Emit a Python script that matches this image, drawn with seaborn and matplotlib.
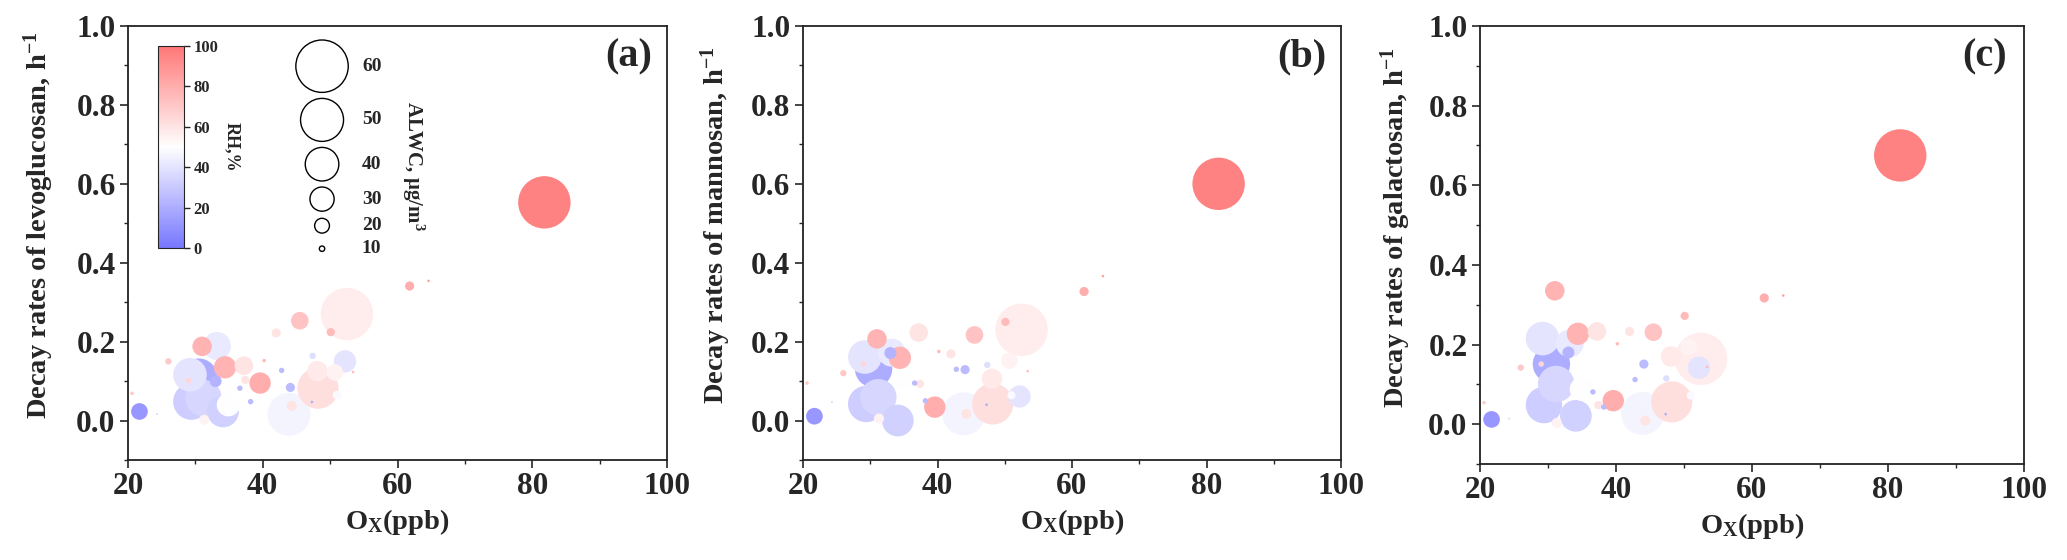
import numpy as np
import pandas as pd
import matplotlib
matplotlib.use("Agg")
import matplotlib.pyplot as plt
import seaborn as sns
from matplotlib.colors import LinearSegmentedColormap, Normalize
from matplotlib.cm import ScalarMappable
from matplotlib.ticker import MultipleLocator, AutoMinorLocator, FormatStrFormatter

# --- data (same samples in the three panels) ---
ox = [21.7, 52.5, 45.5, 42.0, 50.1, 61.8, 64.6, 81.8, 31.0, 33.2,
      26.0, 29.2, 30.5, 34.4, 37.2, 40.2, 39.6, 42.8, 44.1, 43.9,
      44.3, 48.2, 50.7, 52.2, 47.4, 51.0, 47.3, 53.4, 29.4, 31.2,
      34.1, 34.9, 36.6, 38.2, 29.0, 20.6, 37.4, 24.3, 31.3, 33.0, 48.1]
alwc = [22, 60, 23, 14, 13, 14, 7, 60, 25, 34,
        11, 40, 44, 28, 24, 8, 27, 10, 14, 50,
        15, 48, 22, 28, 11, 13, 7, 7, 43, 43,
        38, 29, 10, 10, 10, 8, 13, 6, 15, 17, 26]
rh = [12, 57, 72, 60, 75, 80, 85, 96, 78, 42,
      70, 40, 20, 78, 60, 75, 80, 25, 25, 46,
      60, 62, 55, 40, 38, 48, 20, 75, 32, 35,
      33, 50, 25, 25, 65, 70, 60, 30, 55, 22, 58]
decay_lev = [0.023, 0.270, 0.253, 0.222, 0.224, 0.341, 0.354, 0.553, 0.188, 0.189,
             0.150, 0.116, 0.110, 0.135, 0.139, 0.152, 0.095, 0.127, 0.084, 0.016,
             0.037, 0.082, 0.122, 0.150, 0.164, 0.065, 0.047, 0.123, 0.048, 0.057,
             0.023, 0.040, 0.082, 0.048, 0.101, 0.069, 0.103, 0.016, 0.002, 0.100, 0.125]
decay_man = [0.011, 0.230, 0.217, 0.169, 0.250, 0.327, 0.366, 0.600, 0.207, 0.172,
             0.120, 0.161, 0.131, 0.159, 0.223, 0.175, 0.034, 0.130, 0.129, 0.017,
             0.017, 0.042, 0.152, 0.061, 0.141, 0.064, 0.040, 0.125, 0.042, 0.059,
             0.000, 0.110, 0.095, 0.050, 0.144, 0.095, 0.093, 0.047, 0.005, 0.171, 0.106]
decay_gal = [0.012, 0.164, 0.231, 0.233, 0.272, 0.317, 0.323, 0.675, 0.335, 0.203,
             0.142, 0.215, 0.151, 0.227, 0.233, 0.202, 0.059, 0.112, 0.151, 0.027,
             0.009, 0.056, 0.194, 0.142, 0.115, 0.072, 0.025, 0.144, 0.048, 0.101,
             0.021, 0.088, 0.081, 0.043, 0.151, 0.054, 0.048, 0.014, 0.003, 0.180, 0.170]

panel_tags = ['(a)', '(b)', '(c)']
y_labels = ['Decay rates of levoglucosan, h$^{-1}$',
            'Decay rates of mannosan, h$^{-1}$',
            'Decay rates of galactosan, h$^{-1}$']
x_label = 'O$_{X}$(ppb)'
legend_alwc = [60, 50, 40, 30, 20, 10]
cbar_ticks = [0, 20, 40, 60, 80, 100]

DPI = 100
W, H = 2067, 560


def bubble_radius_px(v):
    # radius grows linearly with ALWC in the original
    return np.maximum(0.47 * np.asarray(v, float) - 2.0, 0.8)


def bubble_area(v):
    d_pt = 2 * bubble_radius_px(v) * 72 / DPI
    return d_pt ** 2


df = pd.DataFrame({'ox': ox, 'alwc': alwc, 'rh': rh,
                   'lev': decay_lev, 'man': decay_man, 'gal': decay_gal})
df = df.sort_values('alwc', ascending=False).reset_index(drop=True)
df['s'] = bubble_area(df['alwc'])

cmap = LinearSegmentedColormap.from_list('rh', ['#7777ff', '#ffffff', '#ff7777'])

sns.set_style('ticks')
plt.rcParams['font.family'] = ['Liberation Serif', 'DejaVu Serif']
plt.rcParams['font.weight'] = 'bold'
plt.rcParams['axes.labelweight'] = 'bold'
plt.rcParams['mathtext.fontset'] = 'custom'
plt.rcParams['mathtext.rm'] = 'Liberation Serif:bold'
plt.rcParams['mathtext.it'] = 'Liberation Serif:bold'
plt.rcParams['mathtext.bf'] = 'Liberation Serif:bold'
plt.rcParams['mathtext.default'] = 'rm'

fig = plt.figure(figsize=(W / DPI, H / DPI), dpi=DPI)


def px_rect(x0, y0, x1, y1):
    return [x0 / W, 1 - y1 / H, (x1 - x0) / W, (y1 - y0) / H]


rects = [px_rect(128, 26, 667, 460), px_rect(803, 26, 1341, 460), px_rect(1480, 26, 2024, 464)]
label_x = [-0.134, -0.130, -0.123]
cols = ['lev', 'man', 'gal']

axes = []
for i, col in enumerate(cols):
    ax = fig.add_axes(rects[i])
    sns.scatterplot(data=df, x='ox', y=col, hue='rh', palette=cmap, hue_norm=(0, 100),
                    s=df['s'].values, linewidth=0, legend=False, ax=ax, zorder=3)
    ax.set_xlim(20, 100)
    ax.set_ylim(-0.1, 1.0)
    ax.xaxis.set_major_locator(MultipleLocator(20))
    ax.xaxis.set_minor_locator(AutoMinorLocator(2))
    ax.yaxis.set_major_locator(MultipleLocator(0.2))
    ax.yaxis.set_minor_locator(AutoMinorLocator(2))
    ax.yaxis.set_major_formatter(FormatStrFormatter('%.1f'))
    ax.tick_params(which='major', direction='out', length=6, width=1.2, labelsize=22.5, pad=3)
    ax.tick_params(which='minor', direction='out', length=3, width=1.0)
    for sp in ax.spines.values():
        sp.set_linewidth(1.3)
        sp.set_color('#222222')
    ax.set_xlabel(x_label, fontsize=20.5, fontweight='bold', labelpad=4)
    ax.set_ylabel(y_labels[i], fontsize=20.5, fontweight='bold')
    ax.yaxis.set_label_coords(label_x[i], 0.54)
    ax.text(0.928, 0.929, panel_tags[i], transform=ax.transAxes, ha='center', va='center',
            fontsize=29, fontweight='bold')
    axes.append(ax)

# --- colour bar inset in panel (a) ---
cax = fig.add_axes(px_rect(158, 46, 184, 248))
sm = ScalarMappable(norm=Normalize(0, 100), cmap=cmap)
cb = fig.colorbar(sm, cax=cax, ticks=cbar_ticks)
cb.outline.set_linewidth(0.8)
cax.tick_params(labelsize=12, length=4, width=1.0, pad=3)
cb.set_label('RH,%', rotation=270, fontsize=13, fontweight='bold', labelpad=16)

# --- bubble size legend in panel (a) ---
ax = axes[0]
ax_h = 434.0
r = bubble_radius_px(legend_alwc)
text_h, gap = 17.0, 6.0
d = np.maximum(2 * r, text_h)
centers = [14.0 + r[0]]
for k in range(1, len(legend_alwc)):
    centers.append(centers[-1] + (d[k - 1] + d[k]) / 2 + gap)
yy = 1 - np.array(centers) / ax_h
ax.scatter([0.36] * len(legend_alwc), yy, s=bubble_area(legend_alwc), facecolors='none',
           edgecolors='black', linewidths=1.0, transform=ax.transAxes, clip_on=False, zorder=5)
for v, y in zip(legend_alwc, yy):
    ax.text(0.434, y, str(v), transform=ax.transAxes, ha='left', va='center',
            fontsize=14, fontweight='bold')
ax.text(0.529, 0.677, 'ALWC, μg/m$^{3}$', transform=ax.transAxes, rotation=270,
        ha='center', va='center', fontsize=15, fontweight='bold')

fig.savefig('out.png', dpi=DPI)
